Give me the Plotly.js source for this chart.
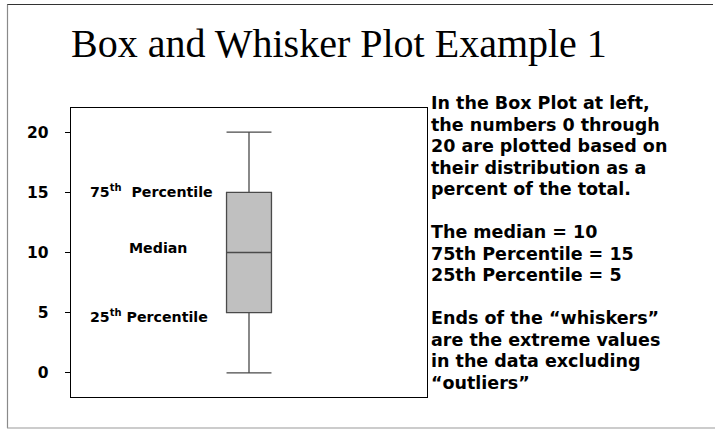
<!DOCTYPE html>
<html>
<head>
<meta charset="utf-8">
<script src="https://cdn.plot.ly/plotly-3.0.1.min.js"></script>
<style>
  html, body { margin: 0; padding: 0; background: #ffffff; }
  #chart { width: 715px; height: 429px; }
</style>
</head>
<body>
<div id="chart"></div>
<script>
// ---- data ----
const boxX = [0];
const lowerFence = [0];
const q1 = [5];
const medianVals = [10];
const q3 = [15];
const upperFence = [20];
const tickVals = [0, 5, 10, 15, 20];
const tickText = ['0', '5', '10', '15', '20'];
const titleText = 'Box and Whisker Plot Example 1';
const sideLines = [
  'In the Box Plot at left,',
  'the numbers 0 through',
  '20 are plotted based on',
  'their distribution as a',
  'percent of the total.',
  '',
  'The median = 10',
  '75th Percentile = 15',
  '25th Percentile = 5',
  '',
  'Ends of the \u201cwhiskers\u201d',
  'are the extreme values',
  'in the data excluding',
  '\u201coutliers\u201d'
];
const labelTexts = ['75<sup>th</sup>  Percentile', 'Median', '25<sup>th</sup> Percentile'];
const labelValues = [15.1, 10.4, 4.7];

// ---- layout geometry (pixels) ----
const W = 715, H = 429;
const L = 71, R = 427, T = 108, B = 397;
const px = x => (x - L) / (R - L);
const py = y => (B - y) / (B - T);

const boldFont = 'DejaVu Sans, Arial, sans-serif';

const trace = {
  type: 'box',
  x: boxX,
  lowerfence: lowerFence,
  q1: q1,
  median: medianVals,
  q3: q3,
  upperfence: upperFence,
  width: 1.01,
  whiskerwidth: 1,
  fillcolor: '#c0c0c0',
  line: { color: '#4a4a4a', width: 1.3 },
  boxpoints: false,
  hoverinfo: 'skip',
  showlegend: false
};

const annotations = [];
// title
annotations.push({
  xref: 'paper', yref: 'paper', x: px(338.5), y: py(43),
  xanchor: 'center', yanchor: 'middle', showarrow: false,
  text: titleText,
  font: { family: 'Liberation Serif, Times New Roman, serif', size: 40, color: '#000' }
});
// side text lines
const lineStart = 103, lineStep = 21.5;
sideLines.forEach((t, i) => {
  if (!t) return;
  annotations.push({
    xref: 'paper', yref: 'paper', x: px(429), y: py(lineStart + i * lineStep),
    xanchor: 'left', yanchor: 'middle', showarrow: false,
    text: t,
    font: { family: boldFont, size: 17.5, color: '#000', weight: 'bold' }
  });
});
// in-plot labels
const labelX = [px(88), px(158), px(88)];
const labelAnchor = ['left', 'center', 'left'];
labelTexts.forEach((t, i) => {
  annotations.push({
    xref: 'paper', yref: 'y', x: labelX[i], y: labelValues[i],
    xanchor: labelAnchor[i], yanchor: 'middle', showarrow: false,
    text: t,
    font: { family: boldFont, size: 14.2, color: '#000', weight: 'bold' }
  });
});

const shapes = [
  // outer slide border
  { type: 'line', xref: 'paper', yref: 'paper', x0: px(7), x1: px(713), y0: py(4.5), y1: py(4.5),
    line: { color: '#333', width: 1.2 } },
  { type: 'line', xref: 'paper', yref: 'paper', x0: px(7.5), x1: px(7.5), y0: py(4.5), y1: py(428),
    line: { color: '#8a8a8a', width: 1.2 } },
  { type: 'line', xref: 'paper', yref: 'paper', x0: px(7), x1: px(715), y0: py(428), y1: py(428),
    line: { color: '#9a9a9a', width: 1.2 } }
];

const layout = {
  width: W, height: H,
  margin: { l: L, r: W - R, t: T, b: H - B, pad: 0 },
  paper_bgcolor: '#ffffff',
  plot_bgcolor: '#ffffff',
  showlegend: false,
  xaxis: {
    range: [-4, 4], showgrid: false, zeroline: false, showticklabels: false, ticks: '',
    showline: true, mirror: true, linecolor: '#000', linewidth: 1.3, fixedrange: true
  },
  yaxis: {
    range: [-2, 22], showgrid: false, zeroline: false,
    tickvals: tickVals, ticktext: tickText,
    ticks: 'outside', ticklen: 5, tickcolor: '#000', tickwidth: 1,
    ticklabelstandoff: 13,
    tickfont: { family: boldFont, size: 15.5, color: '#000', weight: 'bold' },
    showline: true, mirror: true, linecolor: '#000', linewidth: 1.3, fixedrange: true
  },
  annotations: annotations,
  shapes: shapes
};

Plotly.newPlot('chart', [trace], layout, { displayModeBar: false, staticPlot: true });
</script>
</body>
</html>
